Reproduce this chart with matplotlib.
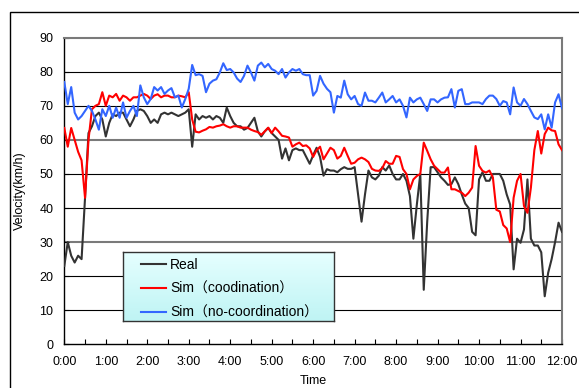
import matplotlib
matplotlib.use("Agg")
import matplotlib.pyplot as plt
import matplotlib.patches as patches
from matplotlib.colors import LinearSegmentedColormap
import numpy as np

plt.rcParams['font.family'] = ['Liberation Sans', 'Noto Sans CJK JP']

# one sample every 5 minutes, 0:00 - 12:00
minutes = np.arange(0, 721, 5)

real = [
    23, 30, 26, 24, 26, 25, 43, 62, 64, 67,
    68, 66, 61, 65, 67.5, 67, 68, 68, 66, 64,
    66, 68.5, 69, 68.5, 67, 65, 66, 65, 67.5, 68,
    67.5, 68, 67.5, 67, 67.5, 68, 69, 58, 67.5, 66,
    67, 66.5, 67, 66, 67, 66.5, 65, 69.5, 67, 65,
    64, 64, 63, 63.5, 65, 66.5, 62.5, 61, 62.5, 63.5,
    62, 61, 60, 54.5, 57.5, 54, 57, 57.5, 57, 57,
    55, 53, 55.5, 57.7, 55, 49.5, 51.4, 51, 51, 50.5,
    51.4, 52, 51.5, 51.5, 52, 44, 36, 44, 51, 49,
    48.4, 49.5, 52, 51, 52.5, 50, 48.4, 48.4, 50, 48,
    43.5, 31, 41, 50, 16, 36, 52, 52, 50.5, 49,
    48, 46.8, 47, 49, 47, 44, 41.3, 40, 33, 32,
    48.4, 50.5, 48, 48, 50, 50, 50, 48, 44, 41,
    22, 31, 29.8, 33.7, 48.4, 31, 29, 29, 27, 14.1,
    21, 25, 30, 35.7, 33,
]

sim_coord = [
    63.5, 58, 63.5, 60, 56.5, 54, 43, 60, 69, 70,
    70.5, 74, 70, 73, 72.5, 73.5, 71.5, 73, 72.5, 71.5,
    72.5, 72.5, 73, 73.5, 73, 72, 73, 73.4, 72.5, 73,
    73, 72.5, 72.5, 73, 72.8, 72.5, 74, 66, 62.4, 62.2,
    62.7, 63.1, 63.8, 63.6, 64, 64.2, 64.6, 64, 63.6, 64,
    64, 63.6, 63.6, 63.6, 63, 62.6, 62.3, 61.5, 62.5, 63.6,
    62, 63.6, 62.5, 61.2, 61, 60.7, 58, 58.7, 59.2, 58.2,
    58.4, 57.5, 55, 57, 58, 54.3, 56, 57.7, 57, 54.5,
    55.3, 57.7, 55.3, 53, 53.3, 54.3, 54.8, 54.3, 53.5, 51.5,
    51, 50.9, 51.7, 53.8, 53, 53, 55.3, 55, 51.4, 50,
    45.5, 48.4, 49.4, 50, 59.2, 56.8, 54.3, 52.4, 51.4, 50.4,
    50.4, 51.9, 45.5, 45.5, 45, 44.5, 43.5, 44.5, 46, 58.2,
    52.4, 50.9, 50.4, 51, 49, 39.5, 39, 35, 34, 30,
    43, 48, 50, 40.6, 38.6, 46, 57, 62.6, 56, 61.7,
    63.6, 62.8, 62.6, 58.7, 57,
]

sim_nocoord = [
    77, 70.5, 75.5, 68, 66, 67, 68.5, 70, 68.5, 66,
    63, 69, 67, 70, 66.5, 69.5, 66.5, 71, 66.5, 68.5,
    70, 67, 76, 72.5, 70.5, 72, 75.5, 74.5, 75.5, 73.5,
    74.5, 75.2, 72.5, 73, 69.5, 72, 75, 82, 79, 79.3,
    78.8, 74, 76.5, 77.4, 77.8, 79.8, 82.5, 80.5, 80.8, 79.8,
    78, 77, 78.8, 81.8, 79.8, 77.4, 81.8, 82.7, 81.3, 82.3,
    80.8, 80.3, 79.3, 80.8, 78.3, 79.8, 80.8, 80.3, 80.8, 79.3,
    79, 79, 73, 74.4, 78.8, 76.5, 75, 74, 68, 72.9,
    72.4, 77.4, 73.4, 71.9, 72.9, 70.5, 70, 73.9, 71.5, 71.5,
    71, 72.4, 73.9, 71, 71.9, 72.9, 71, 71.9, 70, 66.6,
    72.4, 71, 71.9, 72.4, 70.5, 68.5, 71.9, 71.9, 71, 71.9,
    72.4, 72.5, 74.9, 69.5, 74.4, 74.9, 70.5, 70.5, 71, 71,
    71, 70.5, 72, 73, 73, 72, 70, 71.4, 71, 67.5,
    75.4, 71, 70, 72, 70.5, 68.5, 66.6, 66.1, 67.5, 63.1,
    67.5, 63.6, 71, 73.4, 69.3,
]

labels = ["Real", "Sim（coodination）", "Sim（no-coordination）"]
colors = ["#333333", "#ff0000", "#3366ff"]
hour_labels = ["%d:00" % h for h in range(13)]

W, H = 579, 388
fig = plt.figure(figsize=(W / 100, H / 100), dpi=100)

# plot area in pixels: x 64.3..562, y 37.7..344.3
ax = fig.add_axes([64.3 / W, 1 - 344.3 / H, (562 - 64.3) / W, (344.3 - 37.7) / H])

# horizontal grid
for v in range(10, 90, 10):
    if v in (30, 60):
        ax.axhline(v, color="#7a7a7a", lw=1.5, zorder=1)
    else:
        ax.axhline(v, color="black", lw=0.8, zorder=1)

t = minutes / 60
for series, lab, c in zip([real, sim_coord, sim_nocoord], labels, colors):
    ax.plot(t, series, color=c, lw=1.5, label=lab, zorder=3)

ax.set_xlim(0, 12)
ax.set_ylim(0, 90)
ax.set_xticks(range(13))
ax.set_xticklabels(hour_labels)
ax.set_xticks(np.arange(0.5, 12, 1), minor=True)
ax.set_yticks(range(0, 91, 10))
ax.tick_params(axis="both", which="both", direction="in", length=3.5, width=0.8,
               labelsize=9)
ax.tick_params(axis="x", pad=8.5)
ax.tick_params(axis="y", pad=8)

for s in ["left", "bottom"]:
    ax.spines[s].set_color("black")
    ax.spines[s].set_linewidth(1)
for s in ["top", "right"]:
    ax.spines[s].set_color("#7a7a7a")
    ax.spines[s].set_linewidth(1.5)

fig.text(20 / W, 1 - 191 / H, "Velocity(km/h)", rotation=90, ha="center",
         va="center", fontsize=9)
fig.text(313 / W, 0.5 / H, "Time", ha="center", va="bottom", fontsize=9)

# outer chart border (cut at right/bottom)
fig.add_artist(patches.Rectangle((9.5 / W, -0.1), 1.2, 1 - 12 / H + 0.1,
                                 transform=fig.transFigure, fill=False,
                                 edgecolor="black", lw=1))

# legend box with light cyan gradient
lx0, lx1, ly0, ly1 = 123, 334, 252, 321
lax = fig.add_axes([lx0 / W, 1 - ly1 / H, (lx1 - lx0) / W, (ly1 - ly0) / H], zorder=4)
grad = np.linspace(0, 1, 64).reshape(-1, 1)
cm = LinearSegmentedColormap.from_list("lc", ["#e6ffff", "#bff4f4"])
lax.imshow(grad, aspect="auto", cmap=cm, extent=[0, 1, 0, 1])
lax.set_xticks([])
lax.set_yticks([])
for s in lax.spines.values():
    s.set_color("#333333")
    s.set_linewidth(1)

handles, labs = ax.get_legend_handles_labels()
leg = fig.legend(handles, labs, loc="upper left",
                 bbox_to_anchor=(141 / W, 1 - 258 / H),
                 frameon=False, fontsize=10, borderpad=0, borderaxespad=0,
                 handlelength=1.8, handletextpad=0.3, labelspacing=0.7)
leg.set_zorder(6)

fig.savefig("out.png", dpi=100)
